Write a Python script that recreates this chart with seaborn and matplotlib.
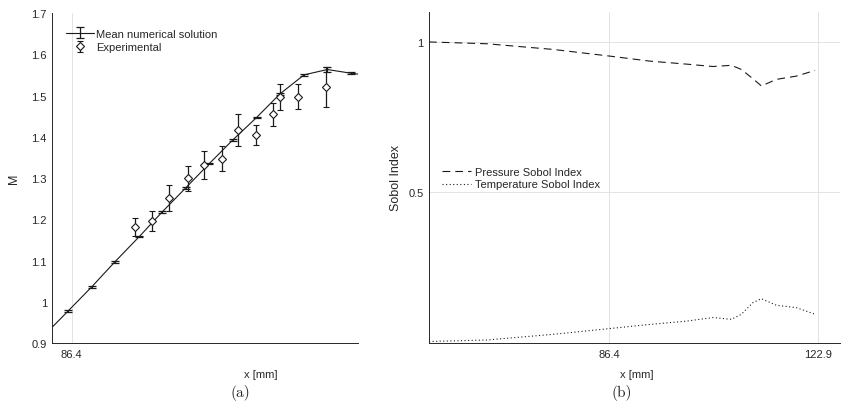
import numpy as np
import matplotlib
matplotlib.use("Agg")
import matplotlib.pyplot as plt
import seaborn as sns

# (a) Mach number along x: mean numerical solution and experiment
x_num = [82.0, 85.62, 90.98, 96.32, 101.89, 107.16, 112.52, 117.93, 123.29,
         128.79, 134.13, 139.63, 144.97, 150.40, 152.0]
m_num = [0.939, 0.978, 1.036, 1.097, 1.158, 1.218, 1.276, 1.335, 1.392,
         1.447, 1.504, 1.550, 1.563, 1.554, 1.552]
err_num = [0.0, 0.002, 0.002, 0.002, 0.002, 0.002, 0.002, 0.002, 0.002,
           0.002, 0.002, 0.002, 0.005, 0.002, 0.0]

x_exp = [100.90, 104.73, 108.76, 113.12, 116.78, 120.77, 124.57, 128.63,
         132.59, 134.13, 138.32, 144.67]
m_exp = [1.181, 1.195, 1.2515, 1.299, 1.3315, 1.347, 1.416, 1.404,
         1.454, 1.497, 1.497, 1.521]
err_exp = [0.021, 0.024, 0.031, 0.030, 0.033, 0.031, 0.039, 0.025,
           0.027, 0.031, 0.030, 0.049]

m_ticks = [0.9, 1.0, 1.1, 1.2, 1.3, 1.4, 1.5, 1.6, 1.7]
m_ticklabels = ["0.9", "1", "1.1", "1.2", "1.3", "1.4", "1.5", "1.6", "1.7"]

# (b) Sobol indices along x
x_sobol = [54.91, 64.99, 76.62, 86.4, 93.51, 99.92, 104.56, 107.78, 109.52,
           111.55, 113.02, 115.63, 119.13, 122.4]
p_sobol = [1.0, 0.994, 0.975, 0.953, 0.936, 0.926, 0.918, 0.922, 0.908,
           0.877, 0.853, 0.875, 0.886, 0.905]
t_sobol = [0.0, 0.005, 0.024, 0.043, 0.057, 0.068, 0.080, 0.074, 0.091,
           0.130, 0.143, 0.121, 0.113, 0.091]

sns.set_theme(style="white")
plt.rcParams["font.family"] = ["Liberation Sans", "DejaVu Sans"]
plt.rcParams["font.size"] = 8

dark = "#262626"
gridc = "#dedede"

fig = plt.figure(figsize=(8.41, 4.06), dpi=100)
ax1 = fig.add_axes([0.0624, 0.1527, 0.3633, 0.8128])
ax2 = fig.add_axes([0.5101, 0.1527, 0.4890, 0.8153])

# ---- panel (a)
num = ax1.errorbar(x_num, m_num, yerr=err_num, errorevery=slice(1, -1),
                   color="k", lw=0.8, elinewidth=0.9, capsize=2.9,
                   capthick=0.9, label="Mean numerical solution")
exp = ax1.errorbar(x_exp, m_exp, yerr=err_exp, fmt="D", color="k",
                   mfc="white", mec="k", ms=3.8, mew=0.8, elinewidth=0.9,
                   capsize=2.2, capthick=0.9, label="Experimental")
ax1.set_xlim(82, 152)
ax1.set_ylim(0.9, 1.7)
ax1.set_xticks([86.4])
ax1.set_xticklabels(["86.4"])
ax1.set_yticks(m_ticks)
ax1.set_yticklabels(m_ticklabels)
ax1.grid(axis="x", color=gridc, lw=0.6)
ax1.set_xlabel("x [mm]", fontsize=8, color=dark)
ax1.xaxis.set_label_coords(0.682, -0.079)
ax1.set_ylabel("M", fontsize=9, color=dark)
ax1.yaxis.set_label_coords(-0.106, 0.5)
ax1.legend(handles=[num, exp], loc="upper left", bbox_to_anchor=(0.03, 0.966),
           frameon=False, fontsize=8, handlelength=2.5, handletextpad=0.2,
           borderaxespad=0, labelspacing=0.3)

# ---- panel (b)
sns.lineplot(x=x_sobol, y=p_sobol, ax=ax2, color="k", lw=0.8,
             linestyle=(0, (7, 4.5)), label="Pressure Sobol Index")
sns.lineplot(x=x_sobol, y=t_sobol, ax=ax2, color="k", lw=0.8,
             linestyle=(0, (1, 2.2)), label="Temperature Sobol Index")
ax2.set_xlim(54.91, 126.8)
ax2.set_ylim(-0.005, 1.1)
ax2.set_xticks([86.4, 122.9])
ax2.set_xticklabels(["86.4", "122.9"])
ax2.set_yticks([0.5, 1.0])
ax2.set_yticklabels(["0.5", "1"])
ax2.grid(True, color=gridc, lw=0.6)
ax2.set_xlabel("x [mm]", fontsize=8, color=dark)
ax2.xaxis.set_label_coords(0.505, -0.079)
ax2.set_ylabel("Sobol Index", fontsize=9, color=dark)
ax2.yaxis.set_label_coords(-0.0655, 0.5)
ax2.legend(loc="upper left", bbox_to_anchor=(0.02, 0.546), frameon=False,
           fontsize=8, handlelength=2.6, handletextpad=0.4,
           borderaxespad=0, labelspacing=0.25)

for ax in (ax1, ax2):
    for side in ("top", "right"):
        ax.spines[side].set_visible(False)
    for side in ("left", "bottom"):
        ax.spines[side].set_color(dark)
        ax.spines[side].set_linewidth(0.7)
    ax.tick_params(direction="in", length=3, width=0.6, colors=dark,
                   labelsize=8, labelcolor=dark, pad=4)
    ax.set_axisbelow(True)

fig.text(240 / 841, 0.032, "(a)", family="cmr10", fontsize=11,
         ha="center", va="center")
fig.text(622 / 841, 0.032, "(b)", family="cmr10", fontsize=11,
         ha="center", va="center")

fig.savefig("out.png", dpi=100)
